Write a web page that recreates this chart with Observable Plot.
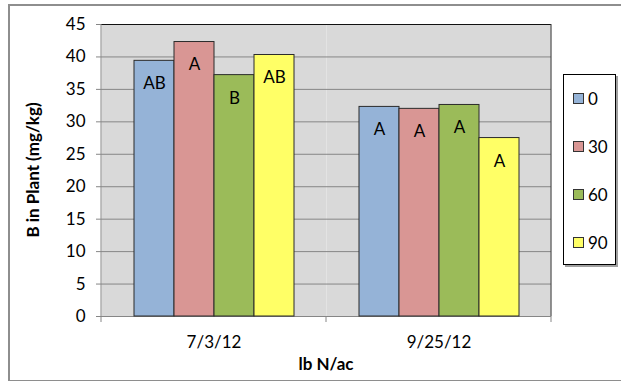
<!DOCTYPE html>
<html>
<head>
<meta charset="utf-8">
<script src="https://cdn.jsdelivr.net/npm/d3@7"></script>
<script src="https://cdn.jsdelivr.net/npm/@observablehq/plot@0.6"></script>
<style>
  html, body { margin: 0; padding: 0; background: #fff; overflow: hidden; }
  #chart { position: relative; width: 621px; height: 381px; font-family: Lato, "Open Sans", sans-serif; }
  #chart svg { position: absolute; left: 0; top: 0; }
  .outer { position: absolute; left: 8px; top: 4px; width: 620px; height: 374px; border: 2px solid #8e8e8e; pointer-events: none; }
  .legend { position: absolute; left: 563px; top: 74px; width: 51px; height: 189px; border: 1px solid #000; background: #fff; box-shadow: 2px 2px 0 #a0a0a0; }
  .legend .item { position: absolute; left: 9px; height: 20px; display: flex; align-items: center; font-size: 17px; color: #000; }
  .legend .sw { width: 9px; height: 9px; border: 1px solid #333; margin-right: 4px; }
</style>
</head>
<body>
<div id="chart"></div>
<script>
// Sampling dates and N rates (lb N/ac)
const dates = ["7/3/12", "9/25/12"];
const rates = ["0", "30", "60", "90"];
const colors = ["#95b3d7", "#d99694", "#9bbb59", "#ffff66"];

// Plant B concentration (mg/kg) per rate, one value per date
const rate0 = [39.4, 32.3];
const rate30 = [42.3, 32.0];
const rate60 = [37.2, 32.6];
const rate90 = [40.3, 27.5];

// Mean separation letters per rate, one per date
const letters0 = ["AB", "A"];
const letters30 = ["A", "A"];
const letters60 = ["B", "A"];
const letters90 = ["AB", "A"];

const yTicks = [0, 5, 10, 15, 20, 25, 30, 35, 40, 45];

const values = [rate0, rate30, rate60, rate90];
const letters = [letters0, letters30, letters60, letters90];
const rows = dates.flatMap((date, i) =>
  rates.map((rate, j) => ({date, rate, value: values[j][i], letter: letters[j][i]}))
);

const plot = Plot.plot({
  width: 621,
  height: 381,
  marginLeft: 100,
  marginRight: 70,
  marginTop: 24,
  marginBottom: 65,
  style: {fontFamily: "Lato, 'Open Sans', sans-serif", fontSize: "17px", background: "transparent", color: "#000"},
  fx: {domain: dates, padding: 0, label: null},
  x: {domain: rates, paddingInner: 0, paddingOuter: 0.745, axis: null},
  y: {domain: [0, 45], label: null},
  color: {domain: rates, range: colors},
  marks: [
    Plot.frame({fill: "#d9d9d9", stroke: "none"}),
    Plot.gridY(yTicks, {stroke: "#868686", strokeOpacity: 1}),
    Plot.ruleY([45], {stroke: "#111"}),
    Plot.ruleY([0], {stroke: "#868686"}),
    Plot.barY(rows, {fx: "date", x: "rate", y: "value", fill: "rate", stroke: "#2b2b2b", strokeWidth: 1}),
    Plot.text(rows, {fx: "date", x: "rate", y: "value", text: "letter", dy: 23, fill: "#000", fontSize: 17}),
    Plot.axisY(yTicks, {tickSize: 5, tickPadding: 11, stroke: "#868686", label: null, fill: "#000", fontSize: 17}),
    Plot.axisFx({anchor: "bottom", tickSize: 0, tickPadding: 19, label: null, fontSize: 17})
  ]
});

const chart = document.getElementById("chart");
chart.appendChild(plot);

// Excel-style frame pieces: y-axis line, category divider ticks, right border, titles
const svg = d3.select(plot);
const fx = plot.scale("fx");
const y = plot.scale("y");
const yTop = y.apply(45), yBottom = y.apply(0);
const edges = [...dates.map((d) => fx.apply(d)), fx.apply(dates[dates.length - 1]) + fx.bandwidth];
const g = svg.append("g");
g.append("line").attr("x1", edges[0]).attr("x2", edges[0]).attr("y1", yTop).attr("y2", yBottom + 6)
  .attr("stroke", "#868686");
edges.slice(1).forEach((x) => {
  g.append("line").attr("x1", x).attr("x2", x).attr("y1", yBottom).attr("y2", yBottom + 6)
    .attr("stroke", "#868686");
});
const xr = edges[edges.length - 1];
g.append("line").attr("x1", xr).attr("x2", xr).attr("y1", yTop).attr("y2", yBottom)
  .attr("stroke", "#3a3a3a");
g.append("text").text("lb N/ac")
  .attr("x", (edges[0] + xr) / 2).attr("y", yBottom + 50)
  .attr("text-anchor", "middle").attr("dominant-baseline", "middle")
  .attr("font-weight", "bold").attr("font-size", 17).attr("fill", "#000");
g.append("text").text("B in Plant (mg/kg)")
  .attr("transform", `translate(35,${(yTop + yBottom) / 2}) rotate(-90)`)
  .attr("text-anchor", "middle").attr("dominant-baseline", "middle")
  .attr("font-weight", "bold").attr("font-size", 17).attr("fill", "#000");

// Legend
const legend = document.createElement("div");
legend.className = "legend";
rates.forEach((r, i) => {
  const item = document.createElement("div");
  item.className = "item";
  item.style.top = (13 + i * 48) + "px";
  const sw = document.createElement("span");
  sw.className = "sw";
  sw.style.background = colors[i];
  const label = document.createElement("span");
  label.textContent = r;
  item.appendChild(sw);
  item.appendChild(label);
  legend.appendChild(item);
});
chart.appendChild(legend);

const outer = document.createElement("div");
outer.className = "outer";
chart.appendChild(outer);
</script>
</body>
</html>
